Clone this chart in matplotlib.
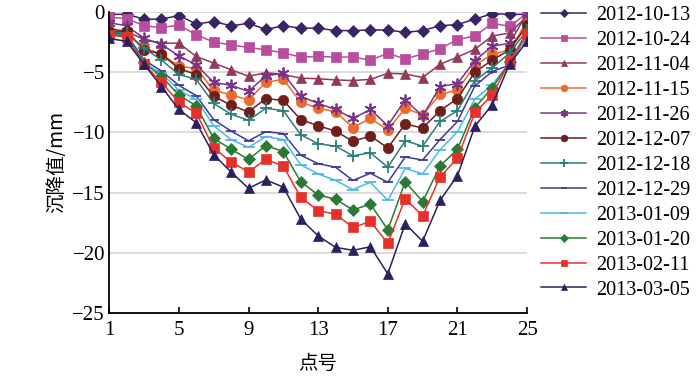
import matplotlib.pyplot as plt
import numpy as np

# 点号 1..25
points = np.arange(1, 26)
dates = ["2012-10-13", "2012-10-24", "2012-11-04", "2012-11-15", "2012-11-26",
         "2012-12-07", "2012-12-18", "2012-12-29", "2013-01-09", "2013-01-20",
         "2013-02-11", "2013-03-05"]

s_1013 = [-0.2, -0.2, -0.6, -0.6, -0.3, -1.0, -0.8, -1.15, -0.95, -1.45, -1.15, -1.35, -1.35,
          -1.55, -1.55, -1.5, -1.5, -1.7, -1.55, -1.15, -1.05, -0.6, -0.15, -0.2, -0.2]
s_1024 = [-0.45, -0.55, -1.15, -1.3, -1.1, -1.9, -2.5, -2.75, -2.95, -3.15, -3.4, -3.75, -3.7,
          -3.75, -3.75, -4.0, -3.45, -3.9, -3.5, -3.05, -2.3, -2.0, -0.95, -1.2, -0.1]
s_1104 = [-1.4, -1.6, -2.3, -2.6, -2.6, -3.7, -4.25, -4.8, -5.35, -5.05, -5.2, -5.5, -5.55,
          -5.65, -5.7, -5.6, -5.1, -5.15, -5.45, -4.35, -3.75, -3.1, -2.0, -1.75, -0.35]
s_1115 = [-1.9, -1.85, -3.0, -3.5, -4.5, -4.7, -6.5, -6.9, -7.3, -5.85, -5.6, -7.5, -8.0,
          -8.3, -9.6, -8.85, -9.8, -8.0, -8.55, -6.85, -6.5, -4.45, -3.5, -3.15, -0.8]
s_1126 = [-0.9, -1.15, -2.2, -2.7, -3.65, -4.4, -5.85, -6.1, -6.6, -5.3, -5.1, -7.0, -7.6,
          -8.1, -8.85, -8.1, -9.45, -7.3, -8.65, -6.2, -5.95, -4.05, -2.85, -2.6, -0.1]
s_1207 = [-1.6, -1.6, -3.15, -3.5, -4.7, -5.2, -7.0, -7.75, -8.3, -7.2, -7.35, -8.95, -9.45,
          -9.9, -10.75, -10.3, -11.3, -9.3, -9.65, -8.2, -7.2, -5.0, -4.0, -3.15, -1.1]
s_1218 = [-1.7, -1.75, -3.0, -4.0, -5.2, -5.6, -7.6, -8.5, -9.0, -8.0, -8.2, -10.2, -10.95,
          -11.15, -11.95, -11.7, -12.9, -10.7, -11.15, -9.1, -8.2, -5.7, -4.65, -3.4, -1.5]
s_1229 = [-1.8, -1.85, -4.0, -4.9, -6.1, -6.95, -8.95, -9.9, -10.7, -9.95, -10.1, -11.9, -12.6,
          -12.9, -14.0, -13.4, -14.15, -12.05, -12.3, -10.6, -9.1, -6.15, -4.95, -4.4, -1.9]
s_0109 = [-1.9, -1.95, -4.2, -5.1, -6.5, -7.25, -9.45, -10.6, -11.25, -10.35, -10.6, -12.7, -13.45,
          -14.0, -14.75, -14.15, -15.65, -13.0, -13.45, -11.45, -9.95, -7.25, -6.05, -4.2, -2.0]
s_0120 = [-1.9, -2.0, -4.25, -5.35, -6.9, -7.8, -10.5, -11.4, -12.25, -11.1, -11.6, -14.1, -15.2,
          -15.55, -16.45, -15.95, -18.1, -14.1, -15.75, -12.8, -11.4, -7.95, -6.3, -4.2, -1.6]
s_0211 = [-1.9, -2.1, -4.35, -5.85, -7.5, -8.4, -11.3, -12.45, -13.3, -12.25, -12.8, -15.4, -16.5,
          -16.8, -17.9, -17.4, -19.2, -15.5, -16.95, -13.7, -12.15, -8.35, -6.9, -4.1, -1.85]
s_0305 = [-2.2, -2.45, -4.35, -6.2, -8.1, -9.2, -11.85, -13.3, -14.65, -13.95, -14.55, -17.2, -18.6,
          -19.55, -19.8, -19.5, -21.75, -17.6, -19.05, -15.65, -13.6, -9.5, -7.7, -4.3, -2.45]

series = [s_1013, s_1024, s_1104, s_1115, s_1126, s_1207,
          s_1218, s_1229, s_0109, s_0120, s_0211, s_0305]

colors = ["#3a2466", "#b84c9f", "#93395f", "#ee6a2c", "#7a3586", "#6e1f1c",
          "#2b7f77", "#3f3a9c", "#4fb8e6", "#2a7a35", "#e8302b", "#2c1f5f"]
markers = ["D", "s", "^", "o", (6, 2, 0), "o", "+", "_", "_", "D", "s", "^"]
msizes = [6, 7, 7.5, 7.5, 8.5, 7.5, 8.5, 7, 8, 6, 7, 7.5]

plt.rcParams['font.family'] = ['Liberation Serif', 'Noto Sans CJK SC']
plt.rcParams['axes.unicode_minus'] = True

fig = plt.figure(figsize=(7, 3.84), dpi=100)
ax = fig.add_axes([0.156, 0.185, 0.597, 0.784])

for vals, lab, c, m, ms in zip(series, dates, colors, markers, msizes):
    ax.plot(points, vals, color=c, marker=m, markersize=ms, linewidth=1.1,
            markeredgewidth=1.3 if m in ("+", "_", (6, 2, 0)) else 0.5,
            markeredgecolor=c, label=lab)

ax.set_xlim(1, 25)
ax.set_ylim(-25, 0)
ax.set_xticks(np.arange(1, 26, 4))
ax.set_yticks(np.arange(-25, 1, 5))
ax.yaxis.grid(True, color="#d9d9d9", linewidth=1.3)
ax.set_axisbelow(True)
for sp in ["top", "right"]:
    ax.spines[sp].set_visible(False)
ax.spines["left"].set_linewidth(1.3)
ax.spines["bottom"].set_linewidth(1.3)
ax.tick_params(axis="x", direction="in", length=4, width=1.2, labelsize=15, pad=6)
ax.tick_params(axis="y", length=0, labelsize=15, pad=3)

ax.set_xlabel("点号", fontsize=14, family=['Noto Sans CJK SC'], labelpad=9)
ax.set_ylabel("沉降值/mm", fontsize=14, family=['Noto Sans CJK SC'], labelpad=4)

fig.legend(loc="upper left", bbox_to_anchor=(0.762, 1.005), frameon=False,
           fontsize=14.5, handlelength=2.2, handletextpad=0.5, labelspacing=0.29,
           markerscale=0.65, borderaxespad=0)

fig.savefig("out.png", dpi=100)
